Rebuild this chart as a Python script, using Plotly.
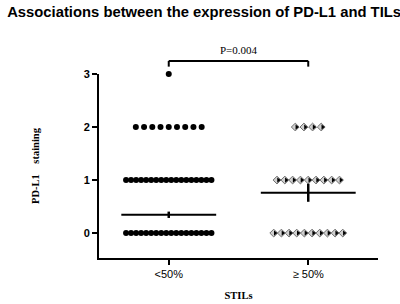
import plotly.graph_objects as go

# ---- data ----
groups = ["<50%", "≥ 50%"]
score_levels = [0, 1, 2, 3]
counts_low = [18, 18, 9, 1]      # dots per PD-L1 score, STILs <50%
counts_high = [10, 9, 4, 0]      # dots per PD-L1 score, STILs >=50%
mean_vals = [0.345, 0.76]
sem_vals = [0.06, 0.17]
p_text = "P=0.004"
y_ticks = [0, 1, 2, 3]

spacing_low = [0.036, 0.036, 0.059, 0.059]
spacing_high = [0.055, 0.056, 0.062, 0.06]


def spread(gi, counts, spacing):
    xs, ys = [], []
    for lvl, n, sp in zip(score_levels, counts, spacing):
        for i in range(n):
            xs.append(gi + (i - (n - 1) / 2) * sp)
            ys.append(lvl)
    return xs, ys


fig = go.Figure()

x1, y1 = spread(0, counts_low, spacing_low)
fig.add_trace(go.Scatter(x=x1, y=y1, mode="markers", cliponaxis=False,
                         marker=dict(symbol="circle", size=6, color="black"),
                         showlegend=False, hoverinfo="skip"))

x2, y2 = spread(1, counts_high, spacing_high)
fig.add_trace(go.Scatter(x=x2, y=y2, mode="markers", cliponaxis=False,
                         marker=dict(symbol="diamond", size=6, color="#d0d0d0",
                                     line=dict(color="#707070", width=1)),
                         showlegend=False, hoverinfo="skip"))
fig.add_trace(go.Scatter(x=[x + 0.01 for x in x2], y=y2, mode="markers", cliponaxis=False,
                         marker=dict(symbol="triangle-right", size=4.5, color="black"),
                         showlegend=False, hoverinfo="skip"))

# mean lines and SEM
for gi, (m, s) in enumerate(zip(mean_vals, sem_vals)):
    fig.add_trace(go.Scatter(x=[gi - 0.34, gi + 0.34], y=[m, m], mode="lines",
                             line=dict(color="black", width=2),
                             showlegend=False, hoverinfo="skip"))
    fig.add_trace(go.Scatter(x=[gi], y=[m], mode="markers",
                             marker=dict(size=0.1, color="black"),
                             error_y=dict(type="data", array=[s], color="black",
                                          thickness=2.5, width=0),
                             showlegend=False, hoverinfo="skip"))

# significance bracket
fig.add_shape(type="line", xref="x", yref="paper", x0=0, x1=1, y0=1.071, y1=1.071,
              line=dict(color="black", width=2))
for gi in (0, 1):
    fig.add_shape(type="line", xref="x", yref="paper", x0=gi, x1=gi, y0=1.071, y1=1.04,
                  line=dict(color="black", width=2))
fig.add_annotation(x=0.5, xref="x", y=1.085, yref="paper", yanchor="bottom",
                   text=p_text, showarrow=False,
                   font=dict(family="Liberation Serif", size=11, color="black"))

nb = "\u00a0"
fig.update_layout(
    width=400, height=304,
    margin=dict(l=99, r=22, t=74, b=46),
    paper_bgcolor="white", plot_bgcolor="white",
    title=dict(text="<b>Associations between the expression of PD-L1 and TILs</b>",
               x=0.018, xanchor="left", y=0.96, yanchor="middle",
               font=dict(family="Arial", size=14.8, color="black")),
    xaxis=dict(range=[-0.5, 1.5], tickvals=[0, 1], ticktext=groups, automargin=False,
               showline=True, linecolor="black", linewidth=2, showgrid=False, zeroline=False,
               ticks="outside", ticklen=5, tickwidth=2, tickcolor="black",
               tickfont=dict(family="Arial", size=11, color="black"),
               title=dict(text="<b>STILs</b>", standoff=12,
                          font=dict(family="Liberation Serif", size=10.5, color="black"))),
    yaxis=dict(range=[-0.47, 3.0], tickvals=y_ticks, automargin=False,
               ticktext=[f"<b>{v}</b>" for v in y_ticks],
               showline=True, linecolor="black", linewidth=2, showgrid=False, zeroline=False,
               ticks="outside", ticklen=5, tickwidth=2, tickcolor="black",
               tickfont=dict(family="Arial", size=11, color="black"),
               title=dict(text=nb * 6 + "<b>PD-L1" + nb * 4 + "staining</b>", standoff=42,
                          font=dict(family="Liberation Serif", size=10.5, color="black"))),
)

fig.write_html("out.html", config={"displayModeBar": False},
               post_script="document.body.style.margin='0';")
